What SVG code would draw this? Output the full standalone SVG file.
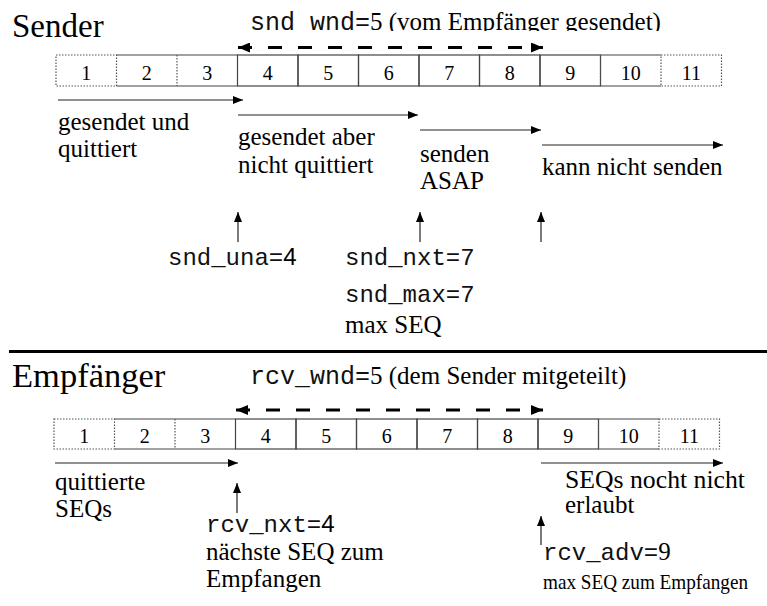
<svg xmlns="http://www.w3.org/2000/svg" width="767" height="606" viewBox="0 0 767 606">
<defs>
<style>
.serif{font-family:"Liberation Serif","Times New Roman",serif;fill:#000}
.mono{font-family:"Liberation Mono","Courier New",monospace;fill:#111}
.sans{font-family:"Liberation Sans",Arial,sans-serif;fill:#000}
.lbl{font-size:25px}
.num{font-size:20px;text-anchor:middle}
.cell{fill:none;stroke:#444;stroke-width:1.2}
.dot{fill:none;stroke:#555;stroke-width:1.2;stroke-dasharray:1.5 1.5}
.arr{fill:none;stroke:#222;stroke-width:1.2;marker-end:url(#ah)}
.dash{fill:none;stroke:#000;stroke-width:3;stroke-dasharray:14 16;marker-start:url(#dh);marker-end:url(#dh)}
</style>
<marker id="ah" viewBox="0 0 10 8" refX="10" refY="4" markerWidth="10" markerHeight="8" markerUnits="userSpaceOnUse" orient="auto">
<path d="M0,0 L10,4 L0,8 Z" fill="#000"/>
</marker>
<marker id="dh" viewBox="0 0 12 10" refX="12" refY="5" markerWidth="12" markerHeight="10" markerUnits="userSpaceOnUse" orient="auto-start-reverse">
<path d="M0,0 L12,5 L0,10 Z" fill="#000"/>
</marker>
<clipPath id="topclip"><rect x="0" y="0" width="767" height="31"/></clipPath>
</defs>

<!-- Sender section -->
<g id="sender-title"><text class="serif" font-size="33" x="12" y="37">Sender</text></g>
<g id="snd-wnd-label" clip-path="url(#topclip)"><text x="250" y="30"><tspan class="mono" font-size="25">snd_wnd=</tspan><tspan class="serif lbl">5 (vom Empfänger gesendet)</tspan></text></g>

<g id="sender-row">
<g id="s-cell-1"><rect class="dot" x="56" y="55" width="60.5" height="31"/><text class="serif num" x="86.3" y="80">1</text></g>
<g id="s-cell-2"><path class="cell" d="M116.5,55 H177 M116.5,86 H177"/><text class="serif num" x="146.8" y="80">2</text></g>
<g id="s-cell-3"><path class="cell" d="M177,55 H237.5 M177,86 H237.5"/><line class="dot" x1="177" y1="55" x2="177" y2="86"/><text class="serif num" x="207.3" y="80">3</text></g>
<g id="s-cell-4"><rect class="cell" x="237.5" y="55" width="60.5" height="31"/><text class="serif num" x="267.8" y="80">4</text></g>
<g id="s-cell-5"><rect class="cell" x="298" y="55" width="60.5" height="31"/><text class="serif num" x="328.3" y="80">5</text></g>
<g id="s-cell-6"><rect class="cell" x="358.5" y="55" width="60.5" height="31"/><text class="serif num" x="388.8" y="80">6</text></g>
<g id="s-cell-7"><rect class="cell" x="419" y="55" width="60.5" height="31"/><text class="serif num" x="449.3" y="80">7</text></g>
<g id="s-cell-8"><rect class="cell" x="479.5" y="55" width="60.5" height="31"/><text class="serif num" x="509.8" y="80">8</text></g>
<g id="s-cell-9"><rect class="cell" x="540" y="55" width="60.5" height="31"/><text class="serif num" x="570.3" y="80">9</text></g>
<g id="s-cell-10"><path class="cell" d="M600.5,55 H661 M600.5,86 H661"/><line class="dot" x1="600.5" y1="55" x2="600.5" y2="86"/><text class="serif num" x="630.8" y="80">10</text></g>
<g id="s-cell-11"><rect class="dot" x="661" y="55" width="60.5" height="31"/><text class="serif num" x="691.3" y="80">11</text></g>
</g>

<g id="s-lbl-acked"><text class="serif lbl" x="58" y="130">gesendet und</text><text class="serif lbl" x="58" y="157">quittiert</text></g>
<g id="s-lbl-unacked"><text class="serif lbl" x="238" y="145">gesendet aber</text><text class="serif lbl" x="238" y="173">nicht quittiert</text></g>
<g id="s-lbl-asap"><text class="serif lbl" x="420" y="162">senden</text><text class="serif lbl" x="420" y="189">ASAP</text></g>
<g id="s-lbl-cannot"><text class="serif lbl" x="542" y="175">kann nicht senden</text></g>
<g id="snd-una"><text x="168" y="265"><tspan class="mono" font-size="24">snd_una=</tspan><tspan class="sans" font-size="24">4</tspan></text></g>
<g id="snd-nxt"><text class="mono" font-size="24" x="345" y="265">snd_nxt=7</text></g>
<g id="snd-max"><text class="mono" font-size="24" x="345" y="302">snd_max=7</text><text class="serif lbl" x="345" y="333">max SEQ</text></g>

<line id="divider" x1="9" y1="351.5" x2="767" y2="351.5" stroke="#000" stroke-width="3"/>

<!-- Receiver section -->
<g id="receiver-title"><text class="serif" font-size="34.5" x="12" y="387">Empfänger</text></g>
<g id="rcv-wnd-label"><text x="250" y="384"><tspan class="mono" font-size="25">rcv_wnd=</tspan><tspan class="serif lbl">5 (dem Sender mitgeteilt)</tspan></text></g>

<g id="receiver-row">
<g id="r-cell-1"><rect class="dot" x="54" y="419" width="60.5" height="30"/><text class="serif num" x="84.3" y="443">1</text></g>
<g id="r-cell-2"><path class="cell" d="M114.5,419 H175 M114.5,449 H175"/><text class="serif num" x="144.8" y="443">2</text></g>
<g id="r-cell-3"><path class="cell" d="M175,419 H235.5 M175,449 H235.5"/><line class="dot" x1="175" y1="419" x2="175" y2="449"/><text class="serif num" x="205.3" y="443">3</text></g>
<g id="r-cell-4"><rect class="cell" x="235.5" y="419" width="60.5" height="30"/><text class="serif num" x="265.8" y="443">4</text></g>
<g id="r-cell-5"><rect class="cell" x="296" y="419" width="60.5" height="30"/><text class="serif num" x="326.3" y="443">5</text></g>
<g id="r-cell-6"><rect class="cell" x="356.5" y="419" width="60.5" height="30"/><text class="serif num" x="386.8" y="443">6</text></g>
<g id="r-cell-7"><rect class="cell" x="417" y="419" width="60.5" height="30"/><text class="serif num" x="447.3" y="443">7</text></g>
<g id="r-cell-8"><rect class="cell" x="477.5" y="419" width="60.5" height="30"/><text class="serif num" x="507.8" y="443">8</text></g>
<g id="r-cell-9"><rect class="cell" x="538" y="419" width="60.5" height="30"/><text class="serif num" x="568.3" y="443">9</text></g>
<g id="r-cell-10"><path class="cell" d="M598.5,419 H659 M598.5,449 H659"/><line class="dot" x1="598.5" y1="419" x2="598.5" y2="449"/><text class="serif num" x="628.8" y="443">10</text></g>
<g id="r-cell-11"><rect class="dot" x="659" y="419" width="60.5" height="30"/><text class="serif num" x="689.3" y="443">11</text></g>
</g>

<g id="r-lbl-acked"><text class="serif lbl" x="55" y="490">quittierte</text><text class="serif lbl" x="55" y="517">SEQs</text></g>
<g id="r-lbl-notallowed"><text class="serif lbl" x="565" y="488" textLength="180" lengthAdjust="spacingAndGlyphs">SEQs nocht nicht</text><text class="serif lbl" x="565" y="513">erlaubt</text></g>
<g id="rcv-nxt"><text x="206" y="532"><tspan class="mono" font-size="24">rcv_nxt=</tspan><tspan class="sans" font-size="24">4</tspan></text><text class="serif lbl" x="206" y="560">nächste SEQ zum</text><text class="serif lbl" x="206" y="587">Empfangen</text></g>
<g id="rcv-adv"><text x="543" y="560"><tspan class="mono" font-size="24">rcv_adv=</tspan><tspan class="serif lbl">9</tspan></text><text class="serif" font-size="21" x="543" y="589" textLength="205" lengthAdjust="spacingAndGlyphs">max SEQ zum Empfangen</text></g>

<g id="connectors">
<line class="dash" x1="238" y1="47.5" x2="543" y2="47.5"/>
<line class="arr" x1="58" y1="100" x2="243" y2="100"/>
<line class="arr" x1="238" y1="115" x2="418" y2="115"/>
<line class="arr" x1="420" y1="130" x2="541" y2="130"/>
<line class="arr" x1="542" y1="145" x2="723" y2="145"/>
<line class="arr" x1="238" y1="242" x2="238" y2="212"/>
<line class="arr" x1="420" y1="242" x2="420" y2="212"/>
<line class="arr" x1="541" y1="242" x2="541" y2="212"/>
<line class="dash" x1="236" y1="410" x2="543" y2="410"/>
<line class="arr" x1="55" y1="463" x2="238" y2="463"/>
<line class="arr" x1="541" y1="463" x2="723" y2="463"/>
<line class="arr" x1="237" y1="513" x2="237" y2="483"/>
<line class="arr" x1="541" y1="545" x2="541" y2="516"/>
</g>
</svg>
